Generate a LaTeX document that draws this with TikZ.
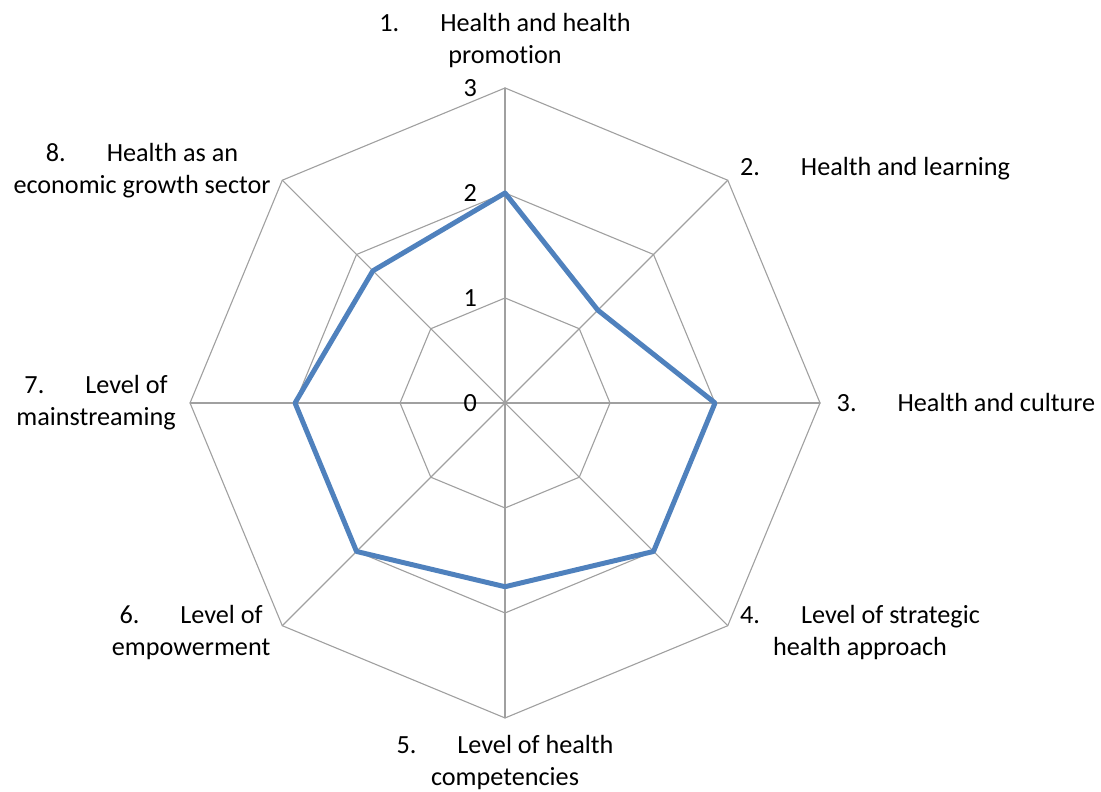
\documentclass[tikz,border=0pt]{standalone}
\usepackage{fontspec}
\setmainfont[Ligatures=NoCommon]{Carlito}
\usepackage{xcolor}
\usetikzlibrary{calc}
\definecolor{gridgray}{RGB}{160,160,160}
\definecolor{seriesblue}{RGB}{79,129,189}
\newcommand{\itemno}[1]{\makebox[33pt][l]{#1}}

\begin{document}
\begin{tikzpicture}[x=2cm, y=2cm, line cap=round, line join=round,
    gridline/.style={gridgray, line width=0.6pt},
    series/.style={seriesblue, line width=2.7pt},
    axislabel/.style={align=center, font=\fontsize{14.2}{17.4}\selectfont, inner sep=0pt},
    ticklabel/.style={anchor=east, font=\fontsize{14.2}{16}\selectfont, inner sep=0pt}]
  \useasboundingbox (-4.810, -3.705) rectangle (5.676, 3.838);
  %--- Rings and spokes
    \foreach \r in {1,2,3}
      \draw[gridline] (90:\r) -- (45:\r) -- (0:\r) -- (-45:\r) -- (-90:\r)
                      -- (-135:\r) -- (180:\r) -- (135:\r) -- cycle;
    \foreach \a in {90,45,...,-225}
      \draw[gridline] (0,0) -- (\a:3);
  %--- Scale
    \foreach \v in {0,1,2,3}
      \node[ticklabel] (tick\v) at (-0.265, \v) {\v};
  %--- Data
    \draw[series] (90:2) -- (45:1.25) -- (0:2) -- (-45:2) -- (-90:1.75)
                  -- (-135:2) -- (180:2) -- (135:1.78) -- cycle;
  %--- Categories
    \node[axislabel] (promotion) at (0, 3.45) {\itemno{1.}Health and health\\promotion};
    \node[axislabel] (learning) at (3.524, 2.229) {\itemno{2.}Health and learning};
    \node[axislabel] (culture) at (4.390, 0) {\itemno{3.}Health and culture};
    \node[axislabel] (strategic) at (3.381, -2.19) {\itemno{4.}Level of strategic\\health approach};
    \node[axislabel] (competencies) at (0, -3.425) {\itemno{5.}Level of health\\competencies};
    \node[axislabel] (empowerment) at (-2.990, -2.19) {\itemno{6.}Level of\\empowerment};
    \node[axislabel] (mainstreaming) at (-3.895, 0) {\itemno{7.}Level of\\mainstreaming};
    \node[axislabel] (economic) at (-3.457, 2.210) {\itemno{8.}Health as an\\economic growth sector};
\end{tikzpicture}
\end{document}
